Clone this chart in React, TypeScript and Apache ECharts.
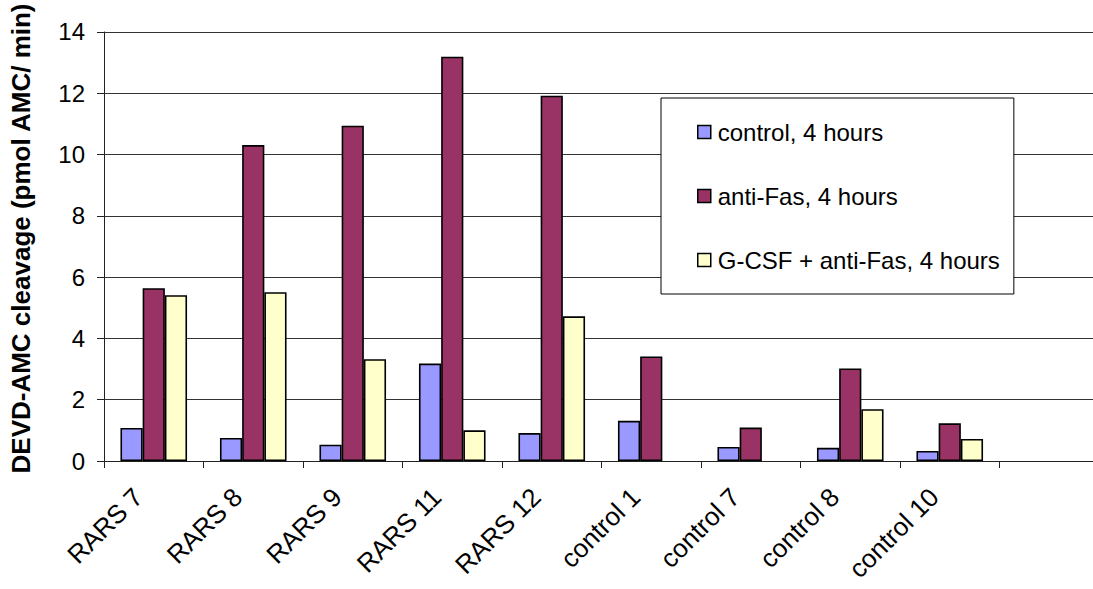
import React, { useEffect, useRef } from "react";
import * as echarts from "echarts";

const categories = [
  "RARS 7",
  "RARS 8",
  "RARS 9",
  "RARS 11",
  "RARS 12",
  "control 1",
  "control 7",
  "control 8",
  "control 10",
  "",
];

const control4h = [1.08, 0.75, 0.53, 3.18, 0.91, 1.31, 0.46, 0.43, 0.33, null];
const antiFas4h = [5.64, 10.31, 10.94, 13.19, 11.92, 3.41, 1.09, 3.02, 1.23, null];
const gcsfAntiFas4h = [5.41, 5.51, 3.32, 1.0, 4.72, null, null, 1.69, 0.72, null];

const yTicks = { min: 0, max: 14, interval: 2 };

const FONT = "Arial, 'Liberation Sans', sans-serif";

export default function App() {
  const ref = useRef<HTMLDivElement>(null);

  useEffect(() => {
    if (!ref.current) return;
    const chart = echarts.init(ref.current, null, { renderer: "svg" });

    const barStyle = (color: string) => ({
      color,
      borderColor: "#000",
      borderWidth: 1.6,
    });

    chart.setOption({
      animation: false,
      backgroundColor: "#fff",
      textStyle: { fontFamily: FONT },
      // the plot runs a few pixels past the right edge of the visible area
      grid: { left: 99, top: 31, bottom: 128, right: 1, containLabel: false },
      legend: {
        orient: "vertical",
        left: 661,
        top: 98,
        padding: [20, 14, 20, 36],
        itemGap: 36,
        itemWidth: 13,
        itemHeight: 13,
        itemStyle: { borderColor: "#000", borderWidth: 1.5 },
        borderColor: "#000",
        borderWidth: 1,
        backgroundColor: "#fff",
        icon: "rect",
        textStyle: { fontSize: 24, color: "#000", fontFamily: FONT, lineHeight: 28, padding: [0, 0, 0, 2] },
        data: ["control, 4 hours", "anti-Fas, 4 hours", "G-CSF + anti-Fas, 4 hours"],
      },
      xAxis: {
        type: "category",
        data: categories,
        boundaryGap: true,
        axisLine: { show: true, lineStyle: { color: "#222", width: 1 } },
        axisTick: { show: true, alignWithLabel: false, length: 7, lineStyle: { color: "#222" } },
        axisLabel: {
          interval: 0,
          rotate: 45,
          fontSize: 26,
          color: "#000",
          fontFamily: FONT,
          margin: 16,
          padding: [0, 22, 0, 0],
        },
        splitLine: { show: false },
      },
      yAxis: {
        type: "value",
        min: yTicks.min,
        max: yTicks.max,
        interval: yTicks.interval,
        name: "DEVD-AMC cleavage (pmol AMC/ min)",
        nameLocation: "middle",
        nameRotate: 90,
        nameGap: 70,
        nameTextStyle: {
          fontSize: 26,
          fontWeight: "bold",
          color: "#000",
          fontFamily: FONT,
          padding: [0, 0, 0, 16],
        },
        axisLine: { show: true, lineStyle: { color: "#222", width: 1 } },
        axisTick: { show: true, inside: false, length: 7, lineStyle: { color: "#222" } },
        axisLabel: { fontSize: 24, color: "#000", margin: 19, fontFamily: FONT },
        splitLine: { show: true, lineStyle: { color: "#333", width: 1 } },
      },
      series: [
        {
          name: "control, 4 hours",
          type: "bar",
          data: control4h,
          barWidth: 22.2,
          barGap: "0%",
          itemStyle: barStyle("#9999FF"),
        },
        {
          name: "anti-Fas, 4 hours",
          type: "bar",
          data: antiFas4h,
          barWidth: 22.2,
          barGap: "0%",
          itemStyle: barStyle("#993366"),
        },
        {
          name: "G-CSF + anti-Fas, 4 hours",
          type: "bar",
          data: gcsfAntiFas4h,
          barWidth: 22.2,
          barGap: "0%",
          itemStyle: barStyle("#FFFFCC"),
        },
      ],
    });

    return () => chart.dispose();
  }, []);

  return (
    <div
      ref={ref}
      style={{ position: "fixed", left: 0, top: 0, width: 1100, height: 589 }}
    />
  );
}
